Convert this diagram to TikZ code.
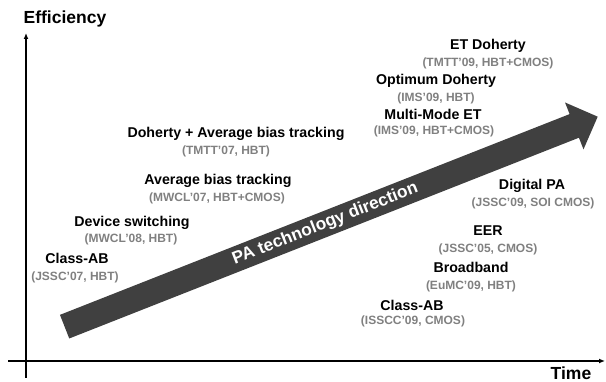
\documentclass[tikz,border=0pt]{standalone}
\usepackage{fontspec}
\setmainfont{Liberation Sans}
\usetikzlibrary{shapes.arrows,arrows.meta}
\definecolor{trendgray}{RGB}{64,64,64}
\definecolor{citegray}{RGB}{128,128,128}
\begin{document}
\begin{tikzpicture}[x=1pt, y=-1pt,
    tech/.style={inner sep=0pt, text height=10.2pt, text depth=0pt, font=\bfseries\fontsize{14.2}{16}\selectfont},
    cite/.style={inner sep=0pt, text height=8.6pt, text depth=0pt, text=citegray, font=\bfseries\fontsize{12}{14}\selectfont},
    axislabel/.style={inner sep=0pt, text height=12.6pt, text depth=0pt, font=\bfseries\fontsize{17.5}{20}\selectfont},
    axis/.style={line width=1.5pt, -{Latex[length=6pt,width=5pt]}}]
    \useasboundingbox (0,0) rectangle (606,382);
    \coordinate (ybot) at (26,378);
    \coordinate (ytop) at (26,33);
    \coordinate (xleft) at (8,361);
    \coordinate (xright) at (605,361);
    \draw[axis] (ybot) -- (ytop);
    \draw[axis] (xleft) -- (xright);
    \node[axislabel] (eff) at (65,17) {Efficiency};
    \node[axislabel] (time) at (571,373.5) {Time};
    \node[single arrow, fill=trendgray, text=white, rotate=21.5,
      minimum height=573pt, minimum width=50pt, single arrow head extend=12.5pt,
      inner xsep=0pt, inner ysep=4.5pt, text height=12.5pt, text depth=3.5pt,
      font=\bfseries\fontsize{17.3}{20}\selectfont] (trend) at (325.25,224) {PA technology direction};
    \node[tech] (hbtab) at (77,258) {Class-AB};
    \node[cite] (hbtabcite) at (75,276) {(JSSC’07, HBT)};
    \node[tech] (devsw) at (132,221) {Device switching};
    \node[cite] (devswcite) at (131,238) {(MWCL’08, HBT)};
    \node[tech] (abt) at (218,179) {Average bias tracking};
    \node[cite] (abtcite) at (217,197) {(MWCL’07, HBT+CMOS)};
    \node[tech] (dabt) at (236,132) {Doherty + Average bias tracking};
    \node[cite] (dabtcite) at (226,150) {(TMTT’07, HBT)};
    \node[tech] (etd) at (488,44) {ET Doherty};
    \node[cite] (etdcite) at (488,62) {(TMTT’09, HBT+CMOS)};
    \node[tech] (optd) at (436,79) {Optimum Doherty};
    \node[cite] (optdcite) at (436,97) {(IMS’09, HBT)};
    \node[tech] (mmet) at (433,114) {Multi-Mode ET};
    \node[cite] (mmetcite) at (434,130) {(IMS’09, HBT+CMOS)};
    \node[tech] (dpa) at (532,184) {Digital PA};
    \node[cite] (dpacite) at (533,202) {(JSSC’09, SOI CMOS)};
    \node[tech] (eer) at (488,230) {EER};
    \node[cite] (eercite) at (488,248) {(JSSC’05, CMOS)};
    \node[tech] (bband) at (471,267) {Broadband};
    \node[cite] (bbandcite) at (471,285) {(EuMC’09, HBT)};
    \node[tech] (cmosab) at (412,305) {Class-AB};
    \node[cite] (cmosabcite) at (413,320) {(ISSCC’09, CMOS)};
  \end{tikzpicture}
\end{document}
